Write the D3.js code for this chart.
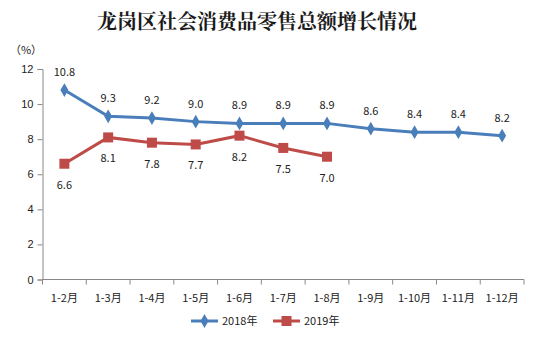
<!DOCTYPE html>
<html><head><meta charset="utf-8">
<script src="https://cdnjs.cloudflare.com/ajax/libs/d3/7.8.5/d3.min.js"></script>
<style>
body{margin:0;background:#fff;}
text{font-family:"Noto Sans CJK SC","Liberation Sans",sans-serif;}
</style></head>
<body><svg id="chart" width="557" height="339"></svg>
<script>
const months = ["1-2月","1-3月","1-4月","1-5月","1-6月","1-7月","1-8月","1-9月","1-10月","1-11月","1-12月"];
const values2018 = [10.8, 9.3, 9.2, 9.0, 8.9, 8.9, 8.9, 8.6, 8.4, 8.4, 8.2];
const values2019 = [6.6, 8.1, 7.8, 7.7, 8.2, 7.5, 7.0];
const yTicks = [0, 2, 4, 6, 8, 10, 12];
const seriesNames = ["2018年", "2019年"];
const colors = ["#4A7EBB", "#BE4B48"];

const svg = d3.select("#chart");
const plotLeft = 42.5, plotRight = 524, plotTop = 69, plotBottom = 279.5;

const x = d3.scaleBand().domain(months).range([plotLeft, plotRight]);
const y = d3.scaleLinear().domain([0, 12]).range([plotBottom, plotTop]);

svg.append("text").attr("x", 257).attr("y", 29).attr("text-anchor", "middle")
  .attr("font-size", 20).attr("font-weight", "bold").attr("fill", "#1a1a1a")
  .style("font-family", "'Noto Serif CJK SC','Noto Sans CJK SC',serif")
  .text("龙岗区社会消费品零售总额增长情况");

svg.append("text").attr("x", 26).attr("y", 54).attr("text-anchor", "middle")
  .attr("font-size", 11).attr("fill", "#222").text("（%）");

// y axis
const yAxis = svg.append("g").attr("transform", `translate(${plotLeft},0)`)
  .call(d3.axisLeft(y).tickValues(yTicks).tickSize(5).tickPadding(4));
yAxis.select(".domain").attr("stroke", "#888");
yAxis.selectAll(".tick line").attr("stroke", "#888");
yAxis.selectAll(".tick text").attr("font-size", 11).attr("fill", "#222")
  .style("font-family", "'Liberation Sans',Arial,sans-serif");

// x axis with ticks between categories
const xg = svg.append("g").attr("transform", `translate(0,${plotBottom})`);
xg.append("line").attr("x1", plotLeft).attr("x2", plotRight).attr("stroke", "#888");
const bounds = months.map(m => x(m)).concat([plotRight]);
xg.selectAll("line.tk").data(bounds).join("line").attr("class", "tk")
  .attr("x1", d => d).attr("x2", d => d).attr("y1", 0).attr("y2", 5).attr("stroke", "#888");
xg.selectAll("text").data(months).join("text")
  .attr("x", d => x(d) + x.bandwidth() / 2).attr("y", 22)
  .attr("text-anchor", "middle").attr("font-size", 11).attr("fill", "#222").text(d => d);

const cx = (d, i) => x(months[i]) + x.bandwidth() / 2;
const line = d3.line().x((d, i) => cx(d, i)).y(d => y(d));

// 2018 series
svg.append("path").datum(values2018).attr("d", line).attr("fill", "none")
  .attr("stroke", colors[0]).attr("stroke-width", 3);
svg.selectAll("path.dia").data(values2018).join("path").attr("class", "dia")
  .attr("d", d3.symbol(d3.symbolDiamond, 55))
  .attr("transform", (d, i) => `translate(${cx(d, i)},${y(d)})`)
  .attr("fill", colors[0]);
svg.selectAll("text.l18").data(values2018).join("text").attr("class", "l18")
  .attr("x", (d, i) => cx(d, i)).attr("y", d => y(d) - 14)
  .attr("text-anchor", "middle").attr("font-size", 11).attr("fill", "#222")
  .text(d => d.toFixed(1));

// 2019 series
svg.append("path").datum(values2019).attr("d", line).attr("fill", "none")
  .attr("stroke", colors[1]).attr("stroke-width", 3);
svg.selectAll("rect.sq").data(values2019).join("rect").attr("class", "sq")
  .attr("x", (d, i) => cx(d, i) - 5).attr("y", d => y(d) - 5)
  .attr("width", 10).attr("height", 10).attr("fill", colors[1]);
svg.selectAll("text.l19").data(values2019).join("text").attr("class", "l19")
  .attr("x", (d, i) => cx(d, i)).attr("y", d => y(d) + 25)
  .attr("text-anchor", "middle").attr("font-size", 11).attr("fill", "#222")
  .text(d => d.toFixed(1));

// legend
const lg = svg.append("g").attr("transform", "translate(0,321)");
[[191, 0], [273, 1]].forEach(([lx, k]) => {
  lg.append("line").attr("x1", lx).attr("x2", lx + 27).attr("stroke", colors[k]).attr("stroke-width", 3);
  if (k === 0) {
    lg.append("path").attr("d", d3.symbol(d3.symbolDiamond, 55)).attr("transform", `translate(${lx + 13.5},0)`).attr("fill", colors[k]);
  } else {
    lg.append("rect").attr("x", lx + 8.5).attr("y", -5).attr("width", 10).attr("height", 10).attr("fill", colors[k]);
  }
  lg.append("text").attr("x", lx + 31).attr("y", 4).attr("font-size", 11).attr("fill", "#222").text(seriesNames[k]);
});
</script></body></html>
